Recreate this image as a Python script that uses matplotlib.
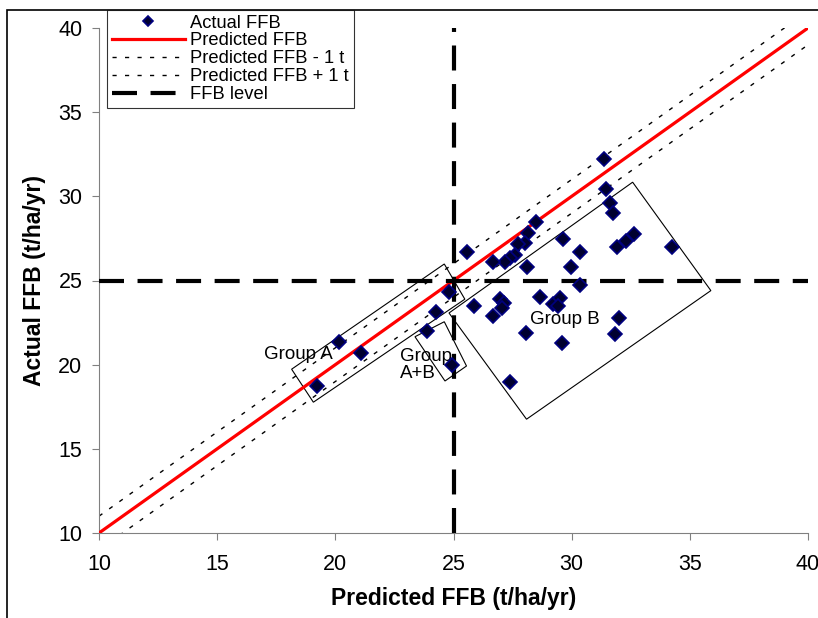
import matplotlib.pyplot as plt
from matplotlib.patches import Polygon, Rectangle
import numpy as np

plt.rcParams['font.family'] = ['Liberation Sans', 'DejaVu Sans']

# predicted vs actual FFB (t/ha/yr)
predicted = [31.36, 31.45, 31.62, 31.76, 28.51, 28.16, 28.02, 27.74, 27.62, 27.39,
             27.17, 26.68, 28.09, 25.58, 29.64, 30.35, 29.99, 30.35, 31.90, 32.28,
             32.64, 34.26, 25.86, 26.96, 27.13, 27.06, 26.68, 28.68, 29.22, 29.50,
             29.43, 32.01, 28.06, 31.83, 29.57, 27.41, 24.82, 24.26, 20.17, 21.08,
             19.21, 23.89, 24.92]
actual = [32.22, 30.44, 29.60, 29.00, 28.50, 27.84, 27.21, 27.17, 26.52, 26.32,
          26.12, 26.12, 25.82, 26.72, 27.47, 26.72, 25.82, 24.74, 27.01, 27.35,
          27.75, 27.01, 23.50, 23.88, 23.68, 23.35, 22.90, 24.04, 23.61, 23.94,
          23.49, 22.79, 21.87, 21.81, 21.27, 18.95, 24.34, 23.11, 21.33, 20.71,
          18.75, 22.00, 19.98]

line_x = [10, 40]
ffb_level = 25
ticks = [10, 15, 20, 25, 30, 35, 40]

# hand-drawn group boxes (data coords)
group_a = [(18.15, 19.73), (24.61, 25.98), (25.48, 23.89), (19.07, 17.77)]
group_ab = [(23.37, 21.66), (24.61, 22.55), (25.55, 19.92), (24.64, 19.03)]
group_b = [(24.81, 23.07), (32.58, 30.84), (35.89, 24.40), (28.09, 16.76)]

fig = plt.figure(figsize=(8.18, 6.18), dpi=100)
ax = fig.add_axes([99/818, 1-533/618, 709/818, 505/618])

lx = np.array(line_x)
ax.plot(predicted, actual, 'D', ms=7, mfc='#000030', mec='#000080', mew=1.2,
        label='Actual FFB', zorder=5)
ax.plot(lx, lx, color='red', lw=2.3, label='Predicted FFB', zorder=3)
ax.plot(lx, lx - 1, color='black', lw=1, ls=(0, (3, 6)), label='Predicted FFB - 1 t')
ax.plot(lx, lx + 1, color='black', lw=1, ls=(0, (3, 6)), label='Predicted FFB + 1 t')
ax.plot(lx, [ffb_level, ffb_level], color='black', lw=3, ls=(0, (6, 3.25)),
        label='FFB level', zorder=4)
ax.plot([ffb_level, ffb_level], lx, color='black', lw=3, ls=(0, (6, 3.25)), zorder=4)

for pts in (group_a, group_ab, group_b):
    ax.add_patch(Polygon(pts, closed=True, fill=False, ec='black', lw=0.8))

ax.text(18.42, 20.58, 'Group A', fontsize=13.5, ha='center', va='center')
ax.text(22.73, 19.98, 'Group\nA+B', fontsize=13.5, ha='left', va='center', linespacing=1.05)
ax.text(29.71, 22.66, 'Group B', fontsize=13.5, ha='center', va='center')

ax.set_xlim(10, 40)
ax.set_ylim(10, 40)
ax.set_xticks(ticks)
ax.set_yticks(ticks)
ax.tick_params(direction='out', length=5, color='#808080', labelsize=15.5)
ax.tick_params(axis='x', pad=10)
ax.tick_params(axis='y', pad=7)
for s in ('top', 'right'):
    ax.spines[s].set_visible(False)
for s in ('left', 'bottom'):
    ax.spines[s].set_color('#808080')
ax.set_xlabel('Predicted FFB (t/ha/yr)', fontsize=16.5, fontweight='bold', labelpad=9)
ax.set_ylabel('Actual FFB (t/ha/yr)', fontsize=16.5, fontweight='bold', labelpad=9)

leg = fig.legend(loc='upper left', bbox_to_anchor=(107/818, 1-10/618), fontsize=13.2,
                 frameon=True, fancybox=False, borderaxespad=0, handlelength=4.0,
                 handletextpad=0.3, labelspacing=0.05, borderpad=0.25, markerscale=0.8)
leg.get_frame().set_edgecolor('black')
leg.get_frame().set_linewidth(0.8)

fig.patches.append(Rectangle((7/818, -0.1), 1.2, 1.1 - 10/618, transform=fig.transFigure,
                             fill=False, ec='black', lw=1.2))

fig.savefig('out.png', dpi=100)
